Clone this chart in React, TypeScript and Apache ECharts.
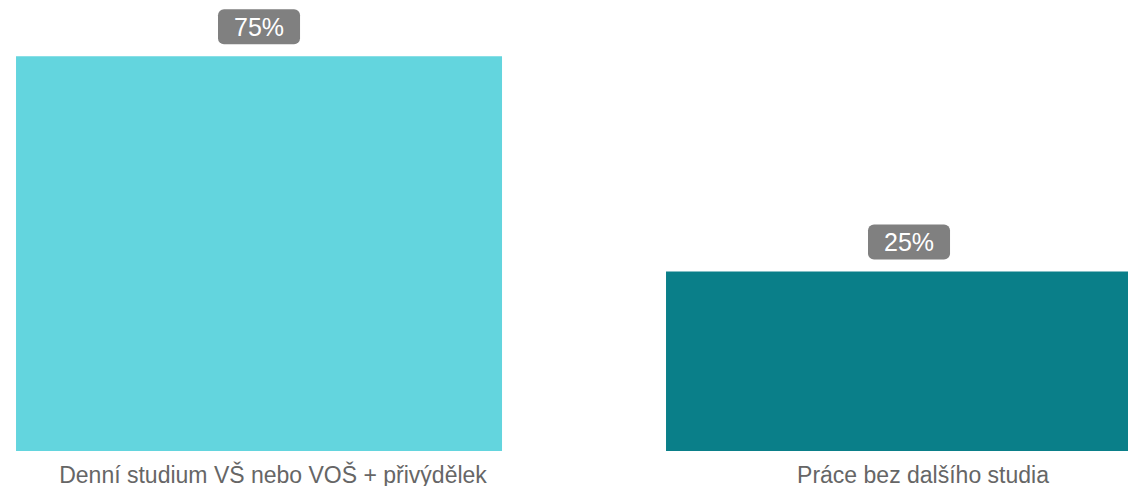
import React, { useEffect, useRef } from "react";
import * as echarts from "echarts";

const categories = ["Denní studium VŠ nebo VOŠ + přivýdělek", "Práce bez dalšího studia"];
const values = [75, 25];
const barColors = ["#63d5de", "#0a7f89"];

const FONT = "'Liberation Sans', Arial, sans-serif";

export default function App() {
  const ref = useRef<HTMLDivElement>(null);
  useEffect(() => {
    if (!ref.current) return;
    const chart = echarts.init(ref.current, undefined, { renderer: "svg" });
    chart.setOption({
      animation: false,
      grid: { left: 0, right: 0, top: 0, bottom: 35, containLabel: false },
      xAxis: {
        type: "value",
        min: -0.3985,
        max: 1.3369,
        axisLine: { show: false },
        axisTick: { show: false },
        splitLine: { show: false },
        axisLabel: {
          customValues: categories.map((_, i) => i),
          formatter: (v: number) => categories[Math.round(v)] ?? "",
          color: "#666666",
          fontSize: 23,
          fontFamily: FONT,
          margin: 12,
          padding: [0, 0, 0, 28],
        },
      },
      yAxis: {
        type: "log",
        logBase: 10,
        min: 10,
        max: 100,
        show: false,
        splitLine: { show: false },
      },
      series: [
        {
          type: "bar",
          barWidth: 486,
          clip: true,
          data: values.map((v, i) => ({ value: [i, v], itemStyle: { color: barColors[i] } })),
          label: {
            show: true,
            position: "top",
            distance: 12,
            formatter: (p: any) => p.value[1] + "%",
            color: "#ffffff",
            fontSize: 25,
            fontFamily: FONT,
            backgroundColor: "#808080",
            borderRadius: 6,
            padding: [5, 16, 5, 16],
          },
        },
      ],
    });
    return () => chart.dispose();
  }, []);
  return (
    <div
      ref={ref}
      style={{ position: "fixed", left: 0, top: 0, width: 1128, height: 486, background: "#fff" }}
    />
  );
}
